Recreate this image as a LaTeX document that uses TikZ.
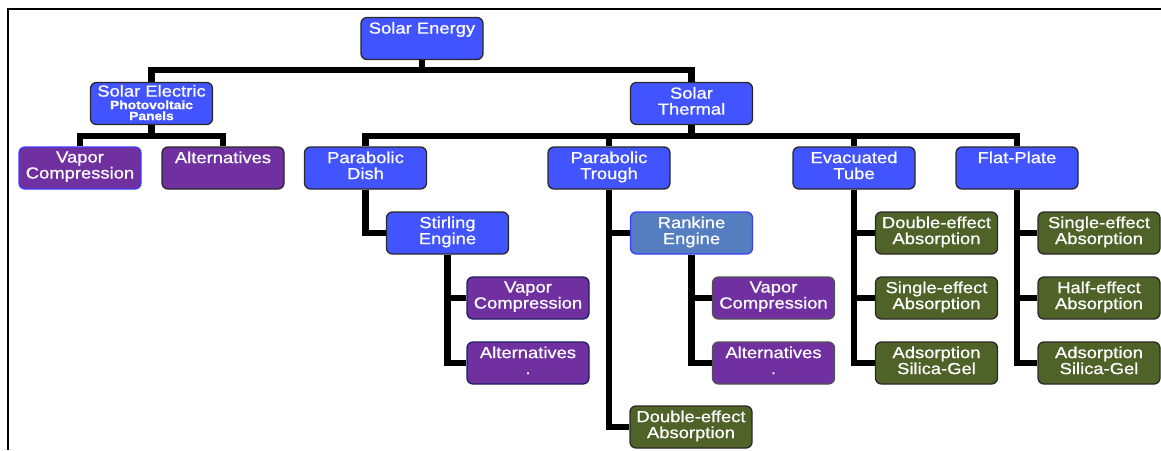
\documentclass[tikz,border=0pt]{standalone}
\usepackage{fontspec}
\setmainfont{Liberation Sans}[FakeStretch=1.15,FakeBold=0.8]
\usetikzlibrary{backgrounds}
\definecolor{bblue}{RGB}{66,84,255}
\definecolor{bpurple}{RGB}{112,48,160}
\definecolor{bgreen}{RGB}{79,98,40}
\definecolor{bsteel}{RGB}{84,126,192}
\definecolor{bord}{RGB}{40,40,40}
\definecolor{bordblue}{RGB}{60,60,255}
\definecolor{bordnavy}{RGB}{30,30,100}
\newcommand\bt[2][4.5pt]{\parbox[c][42pt][t]{122pt}{\centering\vspace*{#1}#2\par}}
\tikzset{
  nbox/.style={draw=bord, line width=1.3pt, rounded corners=6pt, inner sep=0pt,
    text=white, minimum width=122pt, minimum height=42pt,
    font=\fontsize{16}{16}\selectfont},
  blu/.style={nbox, fill=bblue},
  pur/.style={nbox, fill=bpurple},
  grn/.style={nbox, fill=bgreen},
  conn/.style={draw=black, line width=6.5pt, line join=miter},
}
\begin{document}
\begin{tikzpicture}[x=1pt,y=-1pt]
\useasboundingbox (0,0) rectangle (1161,450);
\draw[line width=1.2pt] (8,450) -- (8,9) -- (1161,9);

% level 0-1
\node[blu] (sen) at (422,38.5) {\bt{Solar Energy}};
\node[blu] (sel) at (151.5,103.5) {\bt[2.5pt]{Solar Electric\par\vspace{1.5pt}{\fontsize{12}{11}\selectfont\bfseries Photovoltaic\\Panels\par}}};
\node[blu] (sth) at (691.5,103.5) {\bt{Solar\\Thermal}};

% level 2
\node[pur, draw=bordblue] (vc1) at (80,168) {\bt{Vapor\\Compression}};
\node[pur] (al1) at (223,168) {\bt{Alternatives}};
\node[blu] (dish) at (365.5,168) {\bt{Parabolic\\Dish}};
\node[blu] (trough) at (609,168) {\bt{Parabolic\\Trough}};
\node[blu] (evac) at (854,168) {\bt{Evacuated\\Tube}};
\node[blu] (flat) at (1017,168) {\bt{Flat-Plate}};

% dish branch
\node[blu] (stir) at (447.5,233) {\bt{Stirling\\Engine}};
\node[pur, draw=bordnavy] (vc2) at (528,298) {\bt{Vapor\\Compression}};
\node[pur, draw=bordnavy] (al2) at (528,363) {\bt{Alternatives\\.}};

% trough branch
\node[nbox, fill=bsteel, draw=bordblue] (rank) at (691.5,233) {\bt{Rankine\\Engine}};
\node[pur, draw=bord!80] (vc3) at (773.5,298) {\bt{Vapor\\Compression}};
\node[pur, draw=bord!80] (al3) at (773.5,363) {\bt{Alternatives\\.}};
\node[grn] (de1) at (691,427) {\bt{Double-effect\\Absorption}};

% evacuated tube branch
\node[grn] (e1) at (936.5,233) {\bt{Double-effect\\Absorption}};
\node[grn] (e2) at (936.5,298) {\bt{Single-effect\\Absorption}};
\node[grn] (e3) at (936.5,363) {\bt{Adsorption\\Silica-Gel}};

% flat plate branch
\node[grn] (f1) at (1099,233) {\bt{Single-effect\\Absorption}};
\node[grn] (f2) at (1099,298) {\bt{Half-effect\\Absorption}};
\node[grn] (f3) at (1099,363) {\bt{Adsorption\\Silica-Gel}};

\coordinate (b1) at (422,70);
\coordinate (b2) at (151.5,136);
\coordinate (b3) at (691.5,136);

\begin{scope}[on background layer]
\draw[conn] (sen.south) -- (b1);
\draw[conn] (sel.north) |- (b1) -| (sth.north);
\draw[conn] (sel.south) -- (b2);
\draw[conn] (vc1.north) |- (b2) -| (al1.north);
\draw[conn] (sth.south) -- (b3);
\draw[conn] (dish.north) |- (b3) -| (flat.north);
\draw[conn] (trough.north) -- (trough.north |- b3);
\draw[conn] (evac.north) -- (evac.north |- b3);
\draw[conn] (dish.south) |- (stir.west);
\draw[conn] (stir.south) |- (vc2.west);
\draw[conn] (stir.south) |- (al2.west);
\draw[conn] (trough.south) |- (rank.west);
\draw[conn] (trough.south) |- (de1.west);
\draw[conn] (rank.south) |- (vc3.west);
\draw[conn] (rank.south) |- (al3.west);
\draw[conn] (evac.south) |- (e1.west);
\draw[conn] (evac.south) |- (e2.west);
\draw[conn] (evac.south) |- (e3.west);
\draw[conn] (flat.south) |- (f1.west);
\draw[conn] (flat.south) |- (f2.west);
\draw[conn] (flat.south) |- (f3.west);
\end{scope}
\end{tikzpicture}
\end{document}
